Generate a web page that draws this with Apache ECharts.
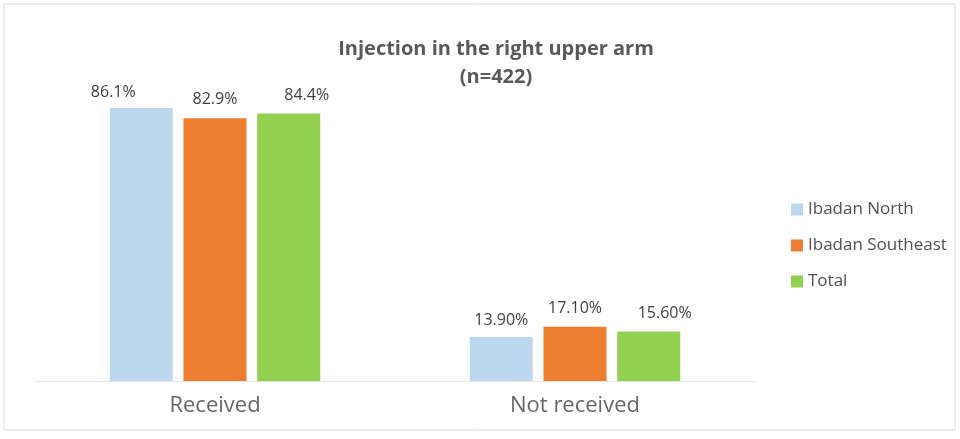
<!DOCTYPE html>
<html><head><meta charset="utf-8">
<script src="https://cdn.jsdelivr.net/npm/echarts@6/dist/echarts.min.js"></script>
<style>html,body{margin:0;padding:0;background:#fff}#c{width:960px;height:439px;}</style>
</head><body><div id="c"></div>
<script>
const categories = ["Received", "Not received"];
const seriesNames = ["Ibadan North", "Ibadan Southeast", "Total"];
const northValues = [86.1, 13.9];
const southeastValues = [82.9, 17.1];
const totalValues = [84.4, 15.6];
const northLabels = ["86.1%", "13.90%"];
const southeastLabels = ["82.9%", "17.10%"];
const totalLabels = ["84.4%", "15.60%"];
const colors = ["#BDD7EE", "#ED7D31", "#92D050"];
const labelShifts = [[[-28,-2],[0,-2]], [[0,-5],[0,-4]], [[18,-4],[16,-4]]];

const vals = [northValues, southeastValues, totalValues];
const labs = [northLabels, southeastLabels, totalLabels];
const chart = echarts.init(document.getElementById('c'));
chart.setOption({
  animation: false,
  graphic: [{type:'rect', shape:{x:4,y:4,width:951,height:426}, style:{fill:'none', stroke:'#d9d9d9', lineWidth:1}}],
  title: {text: "Injection in the right upper arm\n(n=422)", left: 491, textAlign:'center', top: 30,
    textStyle: {fontFamily:'Open Sans', fontSize: 20, fontWeight:'bold', color:'#595959', lineHeight: 28}},
  legend: {orient:'vertical', left: 786, top: 196, itemGap: 19, itemWidth: 12, itemHeight: 12, icon:'rect',
    textStyle:{fontFamily:'Open Sans', fontSize:17, color:'#505050'}},
  grid: {left: 35, right: 205, top: 64, bottom: 58},
  xAxis: {type:'category', data: categories,
    axisLine:{lineStyle:{color:'#e6e6e6'}}, axisTick:{show:false},
    axisLabel:{fontFamily:'Open Sans', fontSize:22, color:'#666666', margin:14}},
  yAxis: {type:'value', min:0, max:100, show:false, splitLine:{show:false}},
  series: seriesNames.map((n,i)=>({
    name:n, type:'bar', barWidth:63, barGap:'17%',
    itemStyle:{color:colors[i]},
    data: vals[i].map((v,j)=>({value:v, label:{offset:labelShifts[i][j]}})),
    label:{show:true, position:'top', distance:6, fontFamily:'Open Sans', fontSize:16, color:'#404040',
      formatter: p => labs[i][p.dataIndex]}
  }))
});
</script></body></html>
